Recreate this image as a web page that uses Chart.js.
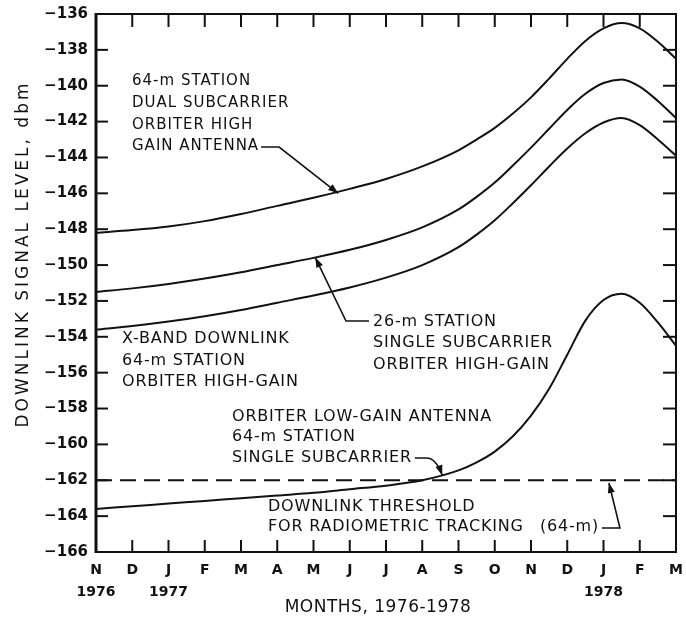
<!DOCTYPE html>
<html>
<head>
<meta charset="utf-8">
<script src="https://cdn.jsdelivr.net/npm/chart.js@4.4.1/dist/chart.umd.min.js"></script>
<style>
  html, body { margin: 0; padding: 0; background: #ffffff; }
  #wrap { width: 686px; height: 618px; }
</style>
</head>
<body>
<div id="wrap"><canvas id="c" width="686" height="618"></canvas></div>
<script>
// ---- data ----
const monthLetters = ['N','D','J','F','M','A','M','J','J','A','S','O','N','D','J','F','M'];
const yearLabels   = ['1976','','1977','','','','','','','','','','','','1978','',''];
const monthPos = [0,1,2,3,4,5,6,7,8,9,10,10.5,11,11.5,12,12.5,13,13.5,14,14.5,15,15.5,16];
const dualSub64   = [-148.2,-148.05,-147.85,-147.55,-147.15,-146.7,-146.25,-145.75,-145.2,-144.5,-143.6,-143.0,-142.35,-141.55,-140.65,-139.6,-138.5,-137.5,-136.8,-136.5,-136.8,-137.55,-138.5];
const singleSub26 = [-151.5,-151.3,-151.05,-150.75,-150.4,-150.0,-149.6,-149.15,-148.6,-147.9,-146.9,-146.2,-145.4,-144.45,-143.45,-142.4,-141.35,-140.45,-139.85,-139.65,-140.05,-140.85,-141.8];
const xBand64     = [-153.6,-153.4,-153.15,-152.85,-152.5,-152.1,-151.7,-151.25,-150.7,-150.0,-149.0,-148.3,-147.5,-146.55,-145.55,-144.5,-143.5,-142.65,-142.05,-141.8,-142.2,-143.0,-143.9];
const lowGain64   = [-163.6,-163.45,-163.3,-163.15,-163.0,-162.85,-162.7,-162.5,-162.3,-162.0,-161.45,-161.0,-160.4,-159.55,-158.4,-156.9,-155.0,-153.1,-151.95,-151.6,-152.1,-153.2,-154.5];
const thresholdLevel = -162;
const yMin = -166, yMax = -136, yStep = 2;

const pts = arr => arr.map((v, i) => ({ x: monthPos[i], y: v }));
const INK = '#111111';
const FONT = "'DejaVu Sans', sans-serif";

const lineDs = (label, arr) => ({
  label, data: pts(arr), borderColor: INK, borderWidth: 2, pointRadius: 0,
  cubicInterpolationMode: 'monotone', fill: false
});

function arrowHead(ctx, fx, fy, tx, ty) {
  const a = Math.atan2(ty - fy, tx - fx), L = 10, W = 3.6;
  ctx.beginPath();
  ctx.moveTo(tx, ty);
  ctx.lineTo(tx - L * Math.cos(a) + W * Math.sin(a), ty - L * Math.sin(a) - W * Math.cos(a));
  ctx.lineTo(tx - L * Math.cos(a) - W * Math.sin(a), ty - L * Math.sin(a) + W * Math.cos(a));
  ctx.closePath();
  ctx.fill();
}

const decor = {
  id: 'decor',
  beforeDraw(chart) {
    const ctx = chart.ctx;
    ctx.save(); ctx.fillStyle = '#fff'; ctx.fillRect(0, 0, chart.width, chart.height); ctx.restore();
  },
  afterDraw(chart) {
    const ctx = chart.ctx, ca = chart.chartArea;
    const xs = chart.scales.x, ys = chart.scales.y;
    ctx.save();
    ctx.strokeStyle = INK; ctx.fillStyle = INK; ctx.lineCap = 'butt';
    // frame
    ctx.lineWidth = 2;
    ctx.strokeRect(ca.left, ca.top, ca.right - ca.left, ca.bottom - ca.top);
    ctx.lineWidth = 3;
    ctx.beginPath(); ctx.moveTo(ca.left, ca.top - 1); ctx.lineTo(ca.left, ca.bottom + 1); ctx.stroke();
    // inward ticks
    ctx.lineWidth = 2;
    ys.ticks.forEach(t => {
      if (t.value <= yMin || t.value >= yMax) return;
      const p = ys.getPixelForValue(t.value);
      ctx.beginPath(); ctx.moveTo(ca.left, p); ctx.lineTo(ca.left + 12, p); ctx.stroke();
      ctx.beginPath(); ctx.moveTo(ca.right, p); ctx.lineTo(ca.right - 13, p); ctx.stroke();
    });
    xs.ticks.forEach(t => {
      if (t.value <= 0 || t.value >= monthLetters.length - 1) return;
      const p = xs.getPixelForValue(t.value);
      ctx.beginPath(); ctx.moveTo(p, ca.bottom); ctx.lineTo(p, ca.bottom - 12); ctx.stroke();
      ctx.beginPath(); ctx.moveTo(p, ca.top); ctx.lineTo(p, ca.top + 13); ctx.stroke();
    });

    // axis titles
    ctx.textBaseline = 'middle';
    ctx.textAlign = 'center';
    ctx.font = '17px ' + FONT;
    ctx.letterSpacing = '3px';
    ctx.save();
    ctx.translate(24, 254);
    ctx.rotate(-Math.PI / 2);
    ctx.fillText('DOWNLINK SIGNAL LEVEL, dbm', 0, 0);
    ctx.restore();
    ctx.letterSpacing = '0.5px';
    ctx.fillText('MONTHS, 1976-1978', 378, 608);

    // annotations
    ctx.textAlign = 'left';
    const X = v => xs.getPixelForValue(v), Y = v => ys.getPixelForValue(v);
    const lines = (arr, x, ys0) => arr.forEach((s, i) => ctx.fillText(s, x, ys0[i]));
    ctx.lineWidth = 1.6;

    // 1. 64-m dual subcarrier
    ctx.font = '15px ' + FONT;
    ctx.letterSpacing = '1px';
    lines(['64-m STATION', 'DUAL SUBCARRIER', 'ORBITER HIGH', 'GAIN ANTENNA'], 132, [81, 103, 125, 146]);
    let e = 132 + ctx.measureText('GAIN ANTENNA').width + 2;
    let tx = X(6.68), ty = Y(-146.0);
    ctx.beginPath(); ctx.moveTo(e, 147); ctx.lineTo(e + 18, 147); ctx.lineTo(tx, ty); ctx.stroke();
    arrowHead(ctx, e + 18, 147, tx, ty);

    ctx.font = '16px ' + FONT;
    ctx.letterSpacing = '0.8px';

    // 2. 26-m single subcarrier
    lines(['26-m STATION', 'SINGLE SUBCARRIER', 'ORBITER HIGH-GAIN'], 373, [322, 343, 365]);
    tx = X(6.05); ty = Y(-149.58);
    ctx.beginPath(); ctx.moveTo(369, 321); ctx.lineTo(346, 321); ctx.lineTo(tx, ty); ctx.stroke();
    arrowHead(ctx, 346, 321, tx, ty);

    // 3. X-band
    lines(['X-BAND DOWNLINK', '64-m STATION', 'ORBITER HIGH-GAIN'], 122, [339, 361, 382]);

    // 4. low-gain
    lines(['ORBITER LOW-GAIN ANTENNA', '64-m STATION', 'SINGLE SUBCARRIER'], 232, [417, 437, 458]);
    e = 232 + ctx.measureText('SINGLE SUBCARRIER').width + 3;
    tx = X(9.55); ty = Y(-161.72);
    ctx.beginPath(); ctx.moveTo(e, 458); ctx.lineTo(tx - 16, 458); ctx.quadraticCurveTo(tx - 6, 458, tx, ty); ctx.stroke();
    arrowHead(ctx, tx - 6, 458, tx, ty);

    // 5. threshold
    ctx.fillText('DOWNLINK THRESHOLD', 268, 507);
    ctx.fillText('FOR RADIOMETRIC TRACKING', 268, 527);
    ctx.fillText('(64-m)', 540, 527);
    e = 540 + ctx.measureText('(64-m)').width + 3;
    tx = X(14.15); ty = Y(-162.15);
    ctx.beginPath(); ctx.moveTo(e, 528); ctx.lineTo(tx + 11, 528); ctx.lineTo(tx, ty); ctx.stroke();
    arrowHead(ctx, tx + 11, 528, tx, ty);

    ctx.restore();
  }
};

new Chart(document.getElementById('c'), {
  type: 'line',
  data: {
    datasets: [
      lineDs('64-m station, dual subcarrier, orbiter high-gain antenna', dualSub64),
      lineDs('26-m station, single subcarrier, orbiter high-gain', singleSub26),
      lineDs('X-band downlink, 64-m station, orbiter high-gain', xBand64),
      lineDs('Orbiter low-gain antenna, 64-m station, single subcarrier', lowGain64),
      {
        label: 'Downlink threshold for radiometric tracking (64-m)',
        data: [{ x: 0, y: thresholdLevel }, { x: monthLetters.length - 1, y: thresholdLevel }],
        borderColor: INK, borderWidth: 1.8, borderDash: [16, 8], pointRadius: 0, fill: false
      }
    ]
  },
  options: {
    responsive: false,
    animation: false,
    devicePixelRatio: 1,
    layout: { padding: { left: 0, right: 10, top: 14, bottom: 0 } },
    plugins: { legend: { display: false }, tooltip: { enabled: false }, title: { display: false } },
    scales: {
      x: {
        type: 'linear',
        min: 0, max: monthLetters.length - 1,
        grid: { display: false, drawTicks: false },
        border: { display: false },
        afterFit: s => { s.height = 66; s.paddingLeft = 0; s.paddingRight = 0; },
        ticks: {
          stepSize: 1, autoSkip: false, maxRotation: 0, padding: 8, color: INK,
          font: { family: FONT, size: 14, weight: 'bold', lineHeight: 1.55 },
          callback: v => Number.isInteger(v) ? [monthLetters[v], yearLabels[v]] : ''
        }
      },
      y: {
        type: 'linear',
        min: yMin, max: yMax,
        grid: { display: false, drawTicks: false },
        border: { display: false },
        afterFit: s => { s.width = 96; s.paddingTop = 0; s.paddingBottom = 0; },
        ticks: {
          stepSize: yStep, padding: 8, color: INK,
          font: { family: FONT, size: 15, weight: 'bold' },
          callback: v => '\u2212' + Math.abs(v)
        }
      }
    }
  },
  plugins: [decor]
});
</script>
</body>
</html>
